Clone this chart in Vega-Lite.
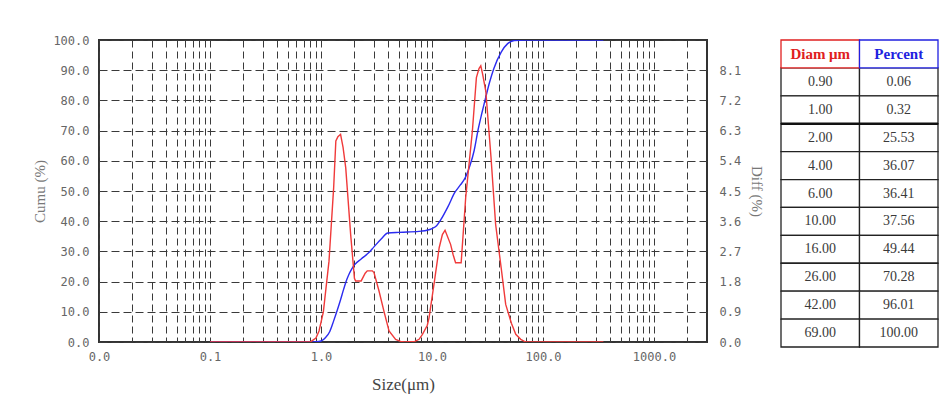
{
  "$schema": "https://vega.github.io/schema/vega-lite/v6.json",
  "background": "white",
  "padding": {"left": 31, "top": 33, "right": 5, "bottom": 5},
  "bounds": "flush",
  "spacing": 74,
  "config": {"view": {"stroke": null}},
  "datasets": {
    "cumu": [
      {"d": 0.1, "v": 0}, {"d": 0.5, "v": 0}, {"d": 0.8, "v": 0}, {"d": 0.9, "v": 0.06}, {"d": 1.0, "v": 0.32},
      {"d": 1.1, "v": 1.5}, {"d": 1.2, "v": 3.5}, {"d": 1.3, "v": 7}, {"d": 1.4, "v": 10.5}, {"d": 1.5, "v": 14},
      {"d": 1.6, "v": 17.5}, {"d": 1.7, "v": 20.5}, {"d": 1.8, "v": 22.7}, {"d": 1.9, "v": 24.3}, {"d": 2.0, "v": 25.53},
      {"d": 2.3, "v": 27.5}, {"d": 2.7, "v": 29.6}, {"d": 3.0, "v": 31.5}, {"d": 3.5, "v": 34.2}, {"d": 4.0, "v": 36.07},
      {"d": 5.0, "v": 36.3}, {"d": 6.0, "v": 36.41}, {"d": 8.0, "v": 36.7}, {"d": 9.0, "v": 37.0}, {"d": 10.0, "v": 37.56},
      {"d": 11, "v": 38.5}, {"d": 12, "v": 40.5}, {"d": 14, "v": 45}, {"d": 16, "v": 49.44}, {"d": 18, "v": 52},
      {"d": 20, "v": 54.5}, {"d": 22, "v": 58.5}, {"d": 24, "v": 63.5}, {"d": 26, "v": 70.28}, {"d": 28, "v": 75.5},
      {"d": 30, "v": 80}, {"d": 33, "v": 86}, {"d": 36, "v": 90.5}, {"d": 42, "v": 96.01}, {"d": 48, "v": 98.8},
      {"d": 55, "v": 99.8}, {"d": 69, "v": 100}, {"d": 100, "v": 100}, {"d": 350, "v": 100}
    ],
    "diff": [
      {"d": 0.1, "v": 0}, {"d": 0.8, "v": 0}, {"d": 0.84, "v": 0.05}, {"d": 0.9, "v": 0.12}, {"d": 0.96, "v": 0.33},
      {"d": 1.05, "v": 0.9}, {"d": 1.18, "v": 2.41}, {"d": 1.3, "v": 4.6}, {"d": 1.36, "v": 5.99}, {"d": 1.42, "v": 6.12},
      {"d": 1.5, "v": 6.19}, {"d": 1.58, "v": 5.8}, {"d": 1.67, "v": 5.19}, {"d": 1.85, "v": 3.2}, {"d": 2.0, "v": 1.9},
      {"d": 2.05, "v": 1.82}, {"d": 2.3, "v": 1.82}, {"d": 2.5, "v": 2.05}, {"d": 2.61, "v": 2.12}, {"d": 2.9, "v": 2.12},
      {"d": 3.0, "v": 2.07}, {"d": 3.33, "v": 1.52}, {"d": 3.7, "v": 0.9}, {"d": 4.1, "v": 0.33}, {"d": 4.7, "v": 0.08},
      {"d": 5.2, "v": 0.02}, {"d": 5.7, "v": 0}, {"d": 7.0, "v": 0.02}, {"d": 7.64, "v": 0.08}, {"d": 8.2, "v": 0.23},
      {"d": 9.07, "v": 0.5}, {"d": 9.4, "v": 0.72}, {"d": 10.5, "v": 1.8}, {"d": 11.6, "v": 2.81}, {"d": 12.4, "v": 3.2},
      {"d": 13.1, "v": 3.33}, {"d": 14.7, "v": 2.91}, {"d": 15.5, "v": 2.6}, {"d": 16.3, "v": 2.36}, {"d": 18.3, "v": 2.36},
      {"d": 20.1, "v": 4.3}, {"d": 23.1, "v": 6.29}, {"d": 25.1, "v": 7.88}, {"d": 26.5, "v": 8.15}, {"d": 27.5, "v": 8.23},
      {"d": 28.5, "v": 8.0}, {"d": 30.5, "v": 7.48}, {"d": 34, "v": 5.5}, {"d": 37.4, "v": 3.51}, {"d": 42, "v": 2.2},
      {"d": 46.1, "v": 1.12}, {"d": 52, "v": 0.55}, {"d": 56.8, "v": 0.23}, {"d": 63, "v": 0.08}, {"d": 69.8, "v": 0},
      {"d": 100, "v": 0}, {"d": 350, "v": 0}
    ],
    "table": [
      {"r": 0, "diam": "Diam μm", "pct": "Percent"},
      {"r": 1, "diam": "0.90", "pct": "0.06"},
      {"r": 2, "diam": "1.00", "pct": "0.32"},
      {"r": 3, "diam": "2.00", "pct": "25.53"},
      {"r": 4, "diam": "4.00", "pct": "36.07"},
      {"r": 5, "diam": "6.00", "pct": "36.41"},
      {"r": 6, "diam": "10.00", "pct": "37.56"},
      {"r": 7, "diam": "16.00", "pct": "49.44"},
      {"r": 8, "diam": "26.00", "pct": "70.28"},
      {"r": 9, "diam": "42.00", "pct": "96.01"},
      {"r": 10, "diam": "69.00", "pct": "100.00"}
    ]
  },
  "hconcat": [
    {
      "width": 608,
      "height": 302,
      "view": {"stroke": "#333", "strokeWidth": 2},
      "layer": [
        {
          "data": {"name": "cumu"},
          "mark": {"type": "line", "color": "#2b2bf0", "strokeWidth": 1.4, "interpolate": "monotone", "clip": true},
          "encoding": {
            "x": {
              "field": "d", "type": "quantitative",
              "scale": {"type": "log", "domain": [0.01, 3000], "nice": false},
              "axis": {
                "values": [0.01,0.02,0.03,0.04,0.05,0.06,0.07,0.08,0.09,0.1,0.2,0.3,0.4,0.5,0.6,0.7,0.8,0.9,1,2,3,4,5,6,7,8,9,10,20,30,40,50,60,70,80,90,100,200,300,400,500,600,700,800,900,1000,2000],
                "labelExpr": "(datum.value==0.01||datum.value==0.1||datum.value==1||datum.value==10||datum.value==100||datum.value==1000) ? format(datum.value,'.1f') : ''",
                "grid": true, "gridDash": [7, 4], "gridColor": "#3a3a3a", "gridWidth": 1,
                "ticks": false, "domain": false,
                "labelFont": "DejaVu Sans Mono", "labelFontSize": 12, "labelColor": "#666",
                "labelPadding": 9, "labelFlush": false, "labelOverlap": false,
                "title": "Size(μm)", "titleFont": "Liberation Serif", "titleFontSize": 17,
                "titleFontWeight": "normal", "titleColor": "#444", "titlePadding": 14
              }
            },
            "y": {
              "field": "v", "type": "quantitative",
              "scale": {"domain": [0, 100], "nice": false},
              "axis": {
                "values": [0,10,20,30,40,50,60,70,80,90,100], "format": ".1f",
                "grid": true, "gridDash": [8, 4], "gridColor": "#3a3a3a", "gridWidth": 1,
                "ticks": false, "domain": false,
                "labelFont": "DejaVu Sans Mono", "labelFontSize": 12, "labelColor": "#666", "labelPadding": 10,
                "title": "Cumu (%)", "titleFont": "Liberation Serif", "titleFontSize": 15,
                "titleFontWeight": "normal", "titleColor": "#777", "titlePadding": 5
              }
            }
          }
        },
        {
          "data": {"name": "diff"},
          "mark": {"type": "line", "color": "#f03a3a", "strokeWidth": 1.4, "clip": true},
          "encoding": {
            "x": {"field": "d", "type": "quantitative"},
            "y": {
              "field": "v", "type": "quantitative",
              "scale": {"domain": [0, 9], "nice": false},
              "axis": {
                "orient": "right",
                "values": [0,0.9,1.8,2.7,3.6,4.5,5.4,6.3,7.2,8.1], "format": ".1f",
                "grid": false, "ticks": false, "domain": false,
                "labelFont": "DejaVu Sans Mono", "labelFontSize": 12, "labelColor": "#666", "labelPadding": 12,
                "title": "Diff (%)", "titleFont": "Liberation Serif", "titleFontSize": 15,
                "titleFontWeight": "normal", "titleColor": "#777", "titlePadding": 8
              }
            }
          }
        }
      ],
      "resolve": {"scale": {"y": "independent"}, "axis": {"y": "independent"}}
    },
    {
      "width": 157,
      "height": 307,
      "data": {"name": "table"},
      "transform": [{"fold": ["diam", "pct"], "as": ["col", "txt"]}],
      "encoding": {
        "x": {"field": "col", "type": "nominal", "sort": ["diam", "pct"], "scale": {"paddingInner": 0, "paddingOuter": 0}, "axis": null},
        "y": {"field": "r", "type": "ordinal", "scale": {"paddingInner": 0, "paddingOuter": 0}, "axis": null}
      },
      "layer": [
        {
          "transform": [{"filter": "datum.r > 0"}],
          "mark": {"type": "rect", "fill": "white", "stroke": "#222", "strokeWidth": 1.3}
        },
        {
          "transform": [{"filter": "datum.r == 0"}],
          "mark": {"type": "rect", "fill": "white", "strokeWidth": 1.3},
          "encoding": {
            "stroke": {"condition": {"test": "datum.col == 'diam'", "value": "#e02020"}, "value": "#2020e0"}
          }
        },
        {
          "transform": [{"filter": "datum.r == 3 && datum.col == 'diam'"}],
          "mark": {"type": "rule", "color": "#111", "strokeWidth": 2.5},
          "encoding": {
            "x": {"value": 0},
            "x2": {"value": 157},
            "y": {"field": "r", "type": "ordinal", "bandPosition": 0}
          }
        },
        {
          "transform": [{"filter": "datum.r > 0"}],
          "mark": {"type": "text", "font": "Liberation Serif", "fontSize": 14, "color": "#3a3a3a"},
          "encoding": {"text": {"field": "txt"}}
        },
        {
          "transform": [{"filter": "datum.r == 0"}],
          "mark": {"type": "text", "font": "Liberation Serif", "fontSize": 15, "fontWeight": "bold"},
          "encoding": {
            "text": {"field": "txt"},
            "color": {"condition": {"test": "datum.col == 'diam'", "value": "#e02020"}, "value": "#2020e0"}
          }
        }
      ]
    }
  ]
}
